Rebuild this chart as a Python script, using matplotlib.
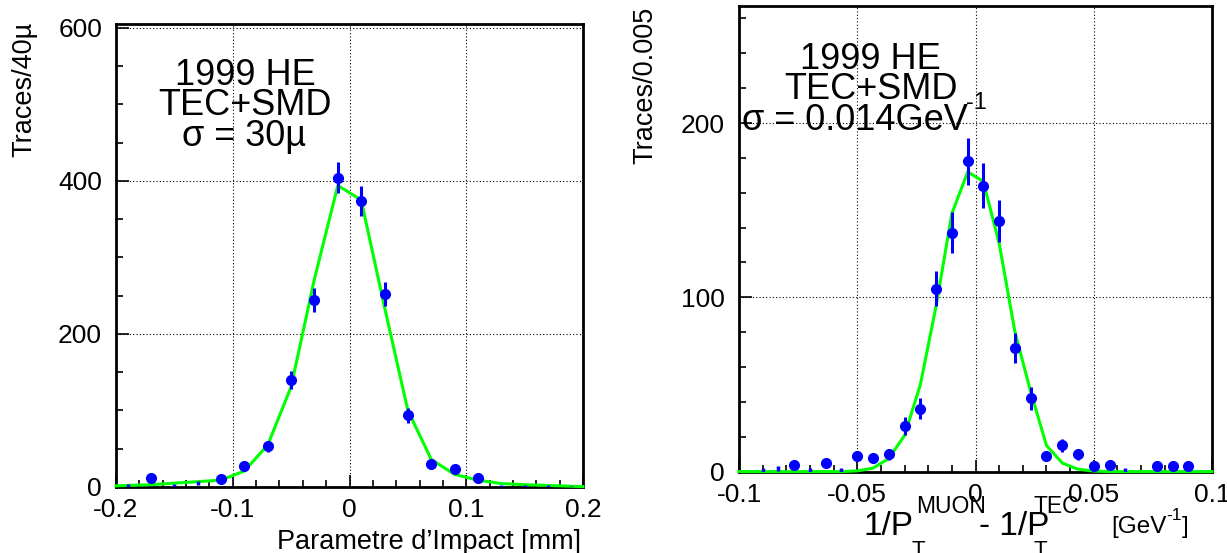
import numpy as np
import matplotlib
matplotlib.use("Agg")
import matplotlib.pyplot as plt

plt.rcParams['font.family'] = ['Liberation Sans', 'DejaVu Sans']
plt.rcParams['axes.unicode_minus'] = False

# --- left: impact parameter (mm) ---
imp_x = [-0.17, -0.11, -0.09, -0.07, -0.05, -0.03, -0.01, 0.01, 0.03, 0.05, 0.07, 0.09, 0.11]
imp_y = [11.5, 10, 27.6, 53, 139.6, 244.7, 404, 374, 252.5, 93.5, 30.4, 23, 11.5]
imp_small_x = [-0.19, -0.15, -0.13, 0.13, 0.15, 0.17, 0.19]
imp_small_y = [2, 2, 5, 1, 1, 1, 0.5]
imp_fit_x = [-0.2, -0.19, -0.17, -0.15, -0.13, -0.11, -0.09, -0.07, -0.05, -0.03, -0.01,
             0.01, 0.03, 0.05, 0.07, 0.09, 0.11, 0.13, 0.15, 0.17, 0.19, 0.2]
imp_fit_y = [1.5, 2, 3, 5, 7, 9, 21, 55, 131, 272, 394,
             375, 235, 100, 36, 16.5, 9, 4.5, 3, 2, 1, 0.5]
imp_xticks = [-0.2, -0.1, 0, 0.1, 0.2]
imp_xlabels = ['-0.2', '-0.1', '0', '0.1', '0.2']
imp_yticks = [0, 200, 400, 600]

# --- right: 1/pt difference (GeV^-1) ---
pt_x = [-0.0767, -0.0633, -0.05, -0.0433, -0.0367, -0.03, -0.0233, -0.0167, -0.01, -0.0033,
        0.0033, 0.01, 0.0167, 0.0233, 0.03, 0.0367, 0.0433, 0.05, 0.0567, 0.0767, 0.0833, 0.09]
pt_y = [4, 5, 9, 8, 10, 26, 36, 105, 137, 178,
        164, 144, 71, 42, 9, 15, 10, 3, 4, 3, 3, 3]
pt_small_x = [-0.09, -0.0833, -0.07, -0.0567, 0.0633]
pt_small_y = [1, 2, 1, 1, 1]
pt_fit_x = [-0.1, -0.0567, -0.05, -0.0433, -0.0367, -0.03, -0.0233, -0.0167, -0.01, -0.0033,
            0.0033, 0.01, 0.0167, 0.0233, 0.03, 0.0367, 0.0433, 0.05, 0.0567, 0.1]
pt_fit_y = [0, 0, 0.4, 2, 7.5, 20.7, 50, 94.7, 148, 172,
            166.5, 131, 80, 46, 15, 4.9, 1.4, 0.3, 0, 0]
pt_xticks = [-0.1, -0.05, 0, 0.05, 0.1]
pt_xlabels = ['-0.1', '-0.05', '0', '0.05', '0.1']
pt_yticks = [0, 100, 200]

W, H = 1227, 553
fig = plt.figure(figsize=(W / 100, H / 100), dpi=100)
blue = '#0000ff'
green = '#00ff00'


def ftext(x, y, s, **kw):
    # place text using pixel coordinates of the picture
    return fig.text(x / W, 1 - y / H, s, **kw)


def sup(base, s, size, dx=0):
    # superscript glued to the upper right corner of another text
    return plt.annotate(s, xy=(1, 1), xycoords=base, xytext=(dx, 0),
                        textcoords='offset points', ha='left', va='center', fontsize=size)


def style(ax, xt, xl, xminor, yt, yminor):
    ax.set_xticks(xt)
    ax.set_xticklabels(xl)
    ax.set_xticks(xminor, minor=True)
    ax.set_yticks(yt)
    ax.set_yticklabels([str(v) for v in yt])
    ax.set_yticks(yminor, minor=True)
    ax.tick_params(which='both', direction='in', top=False, right=False, labelsize=19)
    ax.tick_params(axis='x', which='major', pad=8)
    ax.tick_params(axis='y', which='major', pad=10)
    ax.tick_params(which='major', length=9, width=1.2)
    ax.tick_params(which='minor', length=5, width=1.2)
    ax.grid(True, which='major', color='black', linestyle=(0, (1, 2)), linewidth=0.8)
    for s in ax.spines.values():
        s.set_linewidth(2)


ax1 = fig.add_axes([116 / W, 1 - 487 / H, (583 - 116) / W, (487 - 24) / H])
ax1.plot(imp_fit_x, imp_fit_y, color=green, lw=2.2, zorder=3, clip_on=False)
ax1.errorbar(imp_x, imp_y, yerr=np.sqrt(imp_y), fmt='o', color=blue, ms=7,
             elinewidth=2.2, capsize=0, zorder=4)
ax1.errorbar(imp_small_x, imp_small_y, yerr=np.sqrt(imp_small_y), fmt='none',
             ecolor=blue, elinewidth=2.5, capsize=0, zorder=4)
ax1.set_xlim(-0.2, 0.2)
ax1.set_ylim(0, 605)
style(ax1, imp_xticks, imp_xlabels, np.arange(-0.2, 0.201, 0.02), imp_yticks, np.arange(0, 601, 50))

ax2 = fig.add_axes([739 / W, 1 - 471.6 / H, (1212 - 739) / W, (471.6 - 6.3) / H])
ax2.plot(pt_fit_x, pt_fit_y, color=green, lw=2.2, zorder=3, clip_on=False)
ax2.errorbar(pt_x, pt_y, yerr=np.sqrt(pt_y), fmt='o', color=blue, ms=7,
             elinewidth=2.2, capsize=0, zorder=4)
ax2.errorbar(pt_small_x, pt_small_y, yerr=np.sqrt(pt_small_y), fmt='none',
             ecolor=blue, elinewidth=2.5, capsize=0, zorder=4)
ax2.set_xlim(-0.1, 0.1)
ax2.set_ylim(0, 267)
style(ax2, pt_xticks, pt_xlabels, np.arange(-0.1, 0.1001, 0.01), pt_yticks, np.arange(0, 261, 20))

# axis titles
ftext(24, 22, 'Traces/40\u00b5', rotation=90, ha='center', va='top', fontsize=19.5)
ftext(581, 549, 'Parametre d\u2019Impact [mm]', ha='right', va='baseline', fontsize=19.5)
ftext(645, 7, 'Traces/0.005', rotation=90, ha='center', va='top', fontsize=19.5)

ftext(863, 535, '1/P', ha='left', va='baseline', fontsize=24)
ftext(912, 556, 'T', ha='left', va='baseline', fontsize=16)
ftext(916, 513, 'MUON', ha='left', va='baseline', fontsize=16.5)
ftext(979, 535, '- 1/P', ha='left', va='baseline', fontsize=24)
ftext(1033, 556, 'T', ha='left', va='baseline', fontsize=16)
ftext(1034, 513, 'TEC', ha='left', va='baseline', fontsize=16.5)
gev = ftext(1111, 533, '[GeV', ha='left', va='baseline', fontsize=17.5)
gev_sup = sup(gev, '-1', 12.5)
plt.annotate(']', xy=(1, 0), xycoords=(gev_sup, gev), ha='left', va='bottom', fontsize=17.5)

# annotations
ftext(245, 84.7, '1999 HE', ha='center', va='baseline', fontsize=26)
ftext(245, 114.6, 'TEC+SMD', ha='center', va='baseline', fontsize=26)
ftext(244, 146, '\u03c3 = 30\u00b5', ha='center', va='baseline', fontsize=26)

ftext(870, 68.8, '1999 HE', ha='center', va='baseline', fontsize=26)
ftext(871, 98.8, 'TEC+SMD', ha='center', va='baseline', fontsize=26)
sig = ftext(742, 130, '\u03c3 = 0.014GeV', ha='left', va='baseline', fontsize=26)
sup(sig, '-1', 17, dx=-1)

fig.savefig('out.png', dpi=100)
